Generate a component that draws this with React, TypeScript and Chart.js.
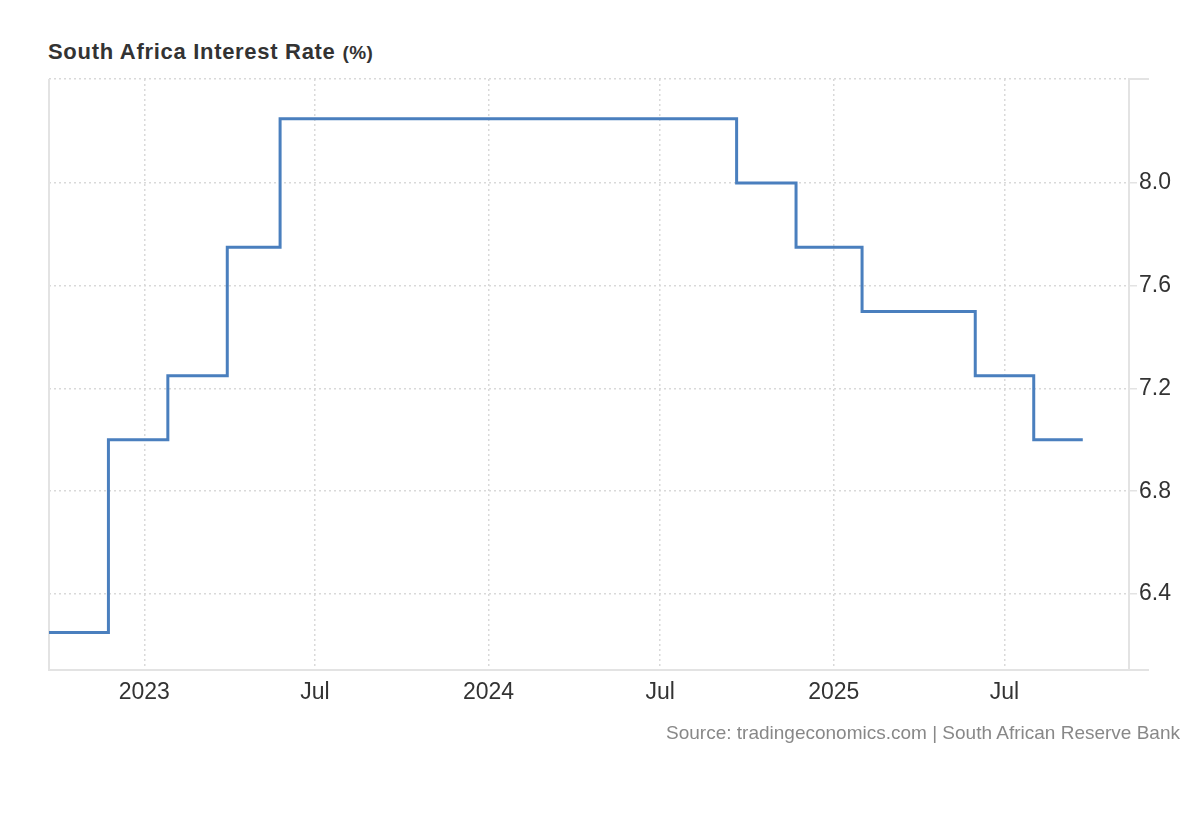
import React, { useEffect, useRef } from "react";
import { Chart, registerables } from "chart.js";

Chart.register(...registerables);

const FONT = "'Liberation Sans', Arial, Helvetica, sans-serif";

// Decision dates (step changes) and the new rate from that date
const rateDates = [
  "2022-09-22",
  "2022-11-24",
  "2023-01-26",
  "2023-03-30",
  "2023-05-25",
  "2024-09-20",
  "2024-11-22",
  "2025-01-31",
  "2025-05-31",
  "2025-08-01",
  "2025-09-22",
];
const rateValues = [6.25, 7.0, 7.25, 7.75, 8.25, 8.0, 7.75, 7.5, 7.25, 7.0, 7.0];

const xTickDates = ["2023-01-01", "2023-07-01", "2024-01-01", "2024-07-01", "2025-01-01", "2025-07-01"];
const xTickLabels = ["2023", "Jul", "2024", "Jul", "2025", "Jul"];
const xRange = ["2022-09-22", "2025-11-10"];

const yLabelled = [6.4, 6.8, 7.2, 7.6, 8.0];
const yRange = [6.104, 8.405];

const toMs = (s: string) => {
  const [y, m, d] = s.split("-").map(Number);
  return Date.UTC(y, m - 1, d);
};

const frameLines = {
  id: "frameLines",
  beforeDatasetsDraw(chart: any) {
    const { ctx, chartArea } = chart;
    ctx.save();
    ctx.strokeStyle = "#e3e3e3";
    ctx.lineWidth = 2;
    ctx.beginPath();
    ctx.moveTo(chartArea.left, chartArea.top);
    ctx.lineTo(chartArea.left, chartArea.bottom);
    ctx.stroke();
    ctx.beginPath();
    ctx.moveTo(chartArea.right, chartArea.top);
    ctx.lineTo(chartArea.right + 20, chartArea.top);
    ctx.moveTo(chartArea.right, chartArea.bottom);
    ctx.lineTo(chartArea.right + 20, chartArea.bottom);
    ctx.stroke();
    ctx.restore();
  },
};

export default function App() {
  const ref = useRef<HTMLCanvasElement | null>(null);

  useEffect(() => {
    if (!ref.current) return;
    const data = rateDates.map((d, i) => ({ x: toMs(d), y: rateValues[i] }));
    const chart = new Chart(ref.current, {
      type: "line",
      data: {
        datasets: [
          {
            data,
            stepped: true,
            borderColor: "#4a7fbe",
            borderWidth: 3,
            pointRadius: 0,
            fill: false,
            borderCapStyle: "butt",
            borderJoinStyle: "miter",
          },
        ],
      },
      plugins: [frameLines],
      options: {
        animation: false,
        responsive: true,
        maintainAspectRatio: false,
        layout: { padding: { left: 49, top: 79, right: 0, bottom: 40 } },
        plugins: {
          legend: { display: false },
          tooltip: { enabled: false },
          title: { display: false },
        },
        scales: {
          x: {
            type: "linear",
            min: toMs(xRange[0]),
            max: toMs(xRange[1]),
            afterBuildTicks: (scale: any) => {
              scale.ticks = xTickDates.map((d) => ({ value: toMs(d) }));
            },
            afterFit: (scale: any) => {
              scale.height = 50;
            },
            ticks: {
              autoSkip: false,
              maxRotation: 0,
              padding: 9,
              color: "#333",
              font: { family: FONT, size: 23 },
              callback: (_v: any, i: number) => xTickLabels[i],
            },
            grid: {
              color: "#d9d9d9",
              lineWidth: 1.5,
              drawTicks: false,
            },
            border: { display: true, color: "#e3e3e3", width: 2, dash: [2, 3] },
          },
          y: {
            position: "right",
            min: yRange[0],
            max: yRange[1],
            afterBuildTicks: (scale: any) => {
              scale.ticks = [...yLabelled, yRange[1]].map((v) => ({ value: v }));
            },
            afterFit: (scale: any) => {
              scale.width = 71;
            },
            ticks: {
              padding: 2,
              color: "#333",
              font: { family: FONT, size: 23 },
              callback: (v: any) => (yLabelled.includes(Number(v)) ? Number(v).toFixed(1) : ""),
            },
            grid: {
              color: "#d9d9d9",
              lineWidth: 1.5,
              tickLength: 8,
              tickColor: "#e3e3e3",
              tickBorderDash: [],
              tickWidth: 1.5,
            },
            border: { display: true, color: "#e3e3e3", width: 2, dash: [2, 3] },
          },
        },
      },
    } as any);
    return () => chart.destroy();
  }, []);

  return (
    <div
      style={{
        position: "fixed",
        left: 0,
        top: 0,
        width: 1200,
        height: 820,
        background: "#fff",
        fontFamily: FONT,
      }}
    >
      <div
        style={{
          position: "absolute",
          left: 48,
          top: 39,
          fontSize: 22,
          lineHeight: "26px",
          fontWeight: "bold",
          color: "#333",
          letterSpacing: "0.7px",
          whiteSpace: "nowrap",
        }}
      >
        South Africa Interest Rate <span style={{ fontSize: 19, letterSpacing: "0.5px" }}>(%)</span>
      </div>
      <div style={{ position: "absolute", left: 0, top: 0, width: 1200, height: 760 }}>
        <canvas ref={ref} />
      </div>
      <div
        style={{
          position: "absolute",
          right: 20,
          top: 723,
          fontSize: 19,
          lineHeight: "20px",
          color: "#888",
          whiteSpace: "nowrap",
        }}
      >
        Source: tradingeconomics.com | South African Reserve Bank
      </div>
    </div>
  );
}
